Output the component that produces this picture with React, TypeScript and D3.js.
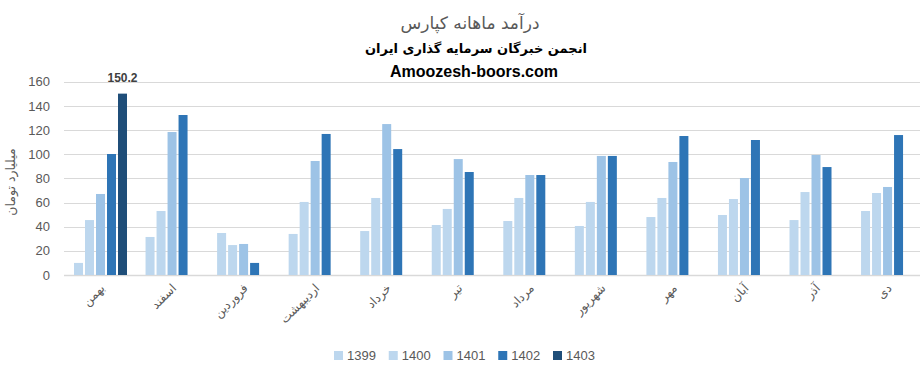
import React from "react";
import * as d3 from "d3";

const months = ["بهمن", "اسفند", "فروردین", "اردیبهشت", "خرداد", "تیر", "مرداد", "شهریور", "مهر", "آبان", "آذر", "دی"];
const seriesNames = ["1399", "1400", "1401", "1402", "1403"];
const s1399 = [10, 31.5, 34.8, 34, 36.4, 41.4, 44.7, 40.6, 48, 49.7, 45.5, 53];
const s1400 = [45.5, 53, 24.8, 60.5, 63.8, 54.7, 63.8, 60.5, 63.8, 62.9, 68.7, 67.9];
const s1401 = [67.1, 118.4, 25.7, 94.4, 125, 96, 82.8, 98.6, 93.6, 80.3, 99.4, 72.9];
const s1402 = [100.2, 132.5, 10, 116.8, 104.3, 85.3, 82.8, 98.6, 115.1, 111.8, 89.4, 115.9];
const s1403: (number | null)[] = [150.2, null, null, null, null, null, null, null, null, null, null, null];
const yTicks = [0, 20, 40, 60, 80, 100, 120, 140, 160];
const colors = ["#BDD7EE", "#BDD7EE", "#9DC3E6", "#2E75B6", "#1F4E79"];

const allSeries: (number | null)[][] = [s1399, s1400, s1401, s1402, s1403];

export default function App() {
  const W = 920, H = 372;
  const x = d3.scaleBand<string>().domain(months).range([64.7, 923.3]).paddingInner(0).paddingOuter(0);
  const xi = d3.scaleBand<string>().domain(seriesNames).range([9.3, 62.3]).paddingInner(2 / 11).paddingOuter(0);
  const y = d3.scaleLinear().domain([0, 160]).range([275, 81.8]);
  const gray = "#595959";
  const fa = "'DejaVu Sans', sans-serif";
  const lat = "'Liberation Sans', Arial, sans-serif";

  return (
    <svg width={W} height={H} style={{ position: "absolute", left: 0, top: 0, background: "#fff" }}>
      <rect x={0} y={0} width={W} height={H} fill="#fff" />
      <text x={470} y={29} textAnchor="middle" fontFamily={fa} fontSize={17} fill={gray}>درآمد ماهانه کپارس</text>
      <text x={476} y={53} textAnchor="middle" fontFamily={fa} fontSize={13} fontWeight="bold" fill="#000">انجمن خبرگان سرمایه گذاری ایران</text>
      <text x={474} y={77} textAnchor="middle" fontFamily={lat} fontSize={16} fontWeight="bold" fill="#000">Amoozesh-boors.com</text>

      {yTicks.map((t) => (
        <g key={t}>
          <line x1={64} x2={920} y1={Math.round(y(t)) + 0.5} y2={Math.round(y(t)) + 0.5} stroke="#d9d9d9" strokeWidth={t === 0 ? 1.5 : 1.2} />
          <text x={50} y={y(t)} dy="0.35em" textAnchor="end" fontFamily={lat} fontSize={13} fill={gray}>{t}</text>
        </g>
      ))}

      <text transform={`translate(15,182) rotate(-90)`} textAnchor="middle" fontFamily={fa} fontSize={12.5} fill={gray}>میلیارد تومان</text>

      {months.map((m, i) => (
        <g key={m} transform={`translate(${x(m)},0)`}>
          {allSeries.map((s, j) => {
            const v = s[i];
            if (v == null) return null;
            return (
              <rect key={j} x={xi(seriesNames[j])!} y={y(v)} width={xi.bandwidth()} height={y(0) - y(v)} fill={colors[j]} />
            );
          })}
        </g>
      ))}

      {months.map((m, i) => {
        const v = s1403[i];
        if (v == null) return null;
        const cx = x(m)! + xi("1403")! + xi.bandwidth() / 2;
        return (
          <text key={"l" + m} x={cx} y={y(v) - 12} textAnchor="middle" fontFamily={lat} fontSize={12} fontWeight="bold" fill="#404040">{v.toFixed(1)}</text>
        );
      })}

      {months.map((m) => {
        const cx = x(m)! + x.bandwidth() / 2;
        return (
          <text key={"x" + m} transform={`translate(${cx + 5},${289}) rotate(-45)`} textAnchor="end" fontFamily={fa} fontSize={12} fill={gray}>{m}</text>
        );
      })}

      {seriesNames.map((s, j) => {
        const lx = 334 + j * 54.75;
        return (
          <g key={"lg" + s}>
            <rect x={lx} y={351} width={9} height={9} fill={colors[j]} />
            <text x={lx + 13} y={360} fontFamily={lat} fontSize={13} fill={gray}>{s}</text>
          </g>
        );
      })}
    </svg>
  );
}
